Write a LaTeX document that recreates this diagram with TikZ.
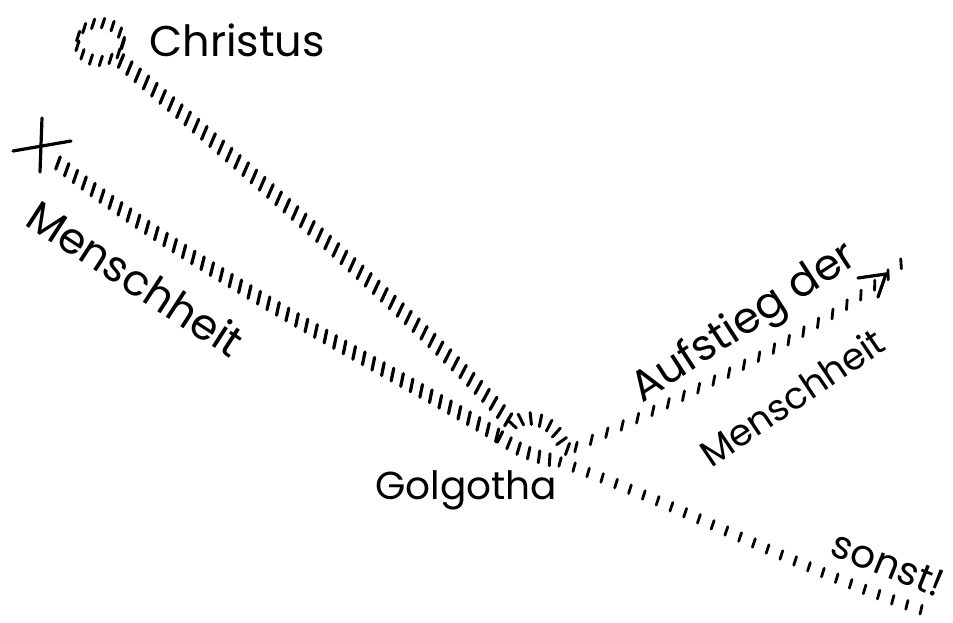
\documentclass[tikz,border=0pt]{standalone}
\usepackage{fontspec}
\setmainfont{Poppins}
\usetikzlibrary{decorations.markings}
\tikzset{
  ink/.style={black, line cap=round},
  hatch/.style n args={4}{decorate, decoration={markings,
     mark=between positions 0 and 1 step #1 with {\draw[ink, line width=#4] (#2+180:#3) -- (#2:#3);}}},
  hatchabs/.style n args={4}{decorate, decoration={markings,
     mark=between positions 0 and 1 step #1 with {\pgftransformresetnontranslations\draw[ink, line width=#4] (#2+180:#3) -- (#2:#3);}}},
  hand/.style={font=\fontsize{43}{43}\selectfont, inner sep=0pt},
  handmid/.style={font=\fontsize{39}{39}\selectfont, inner sep=0pt},
  handsmall/.style={font=\fontsize{37}{37}\selectfont, inner sep=0pt},
}
\begin{document}
\begin{tikzpicture}[x=1pt,y=-1pt]
\fill[white] (0,0) rectangle (953,622);
\useasboundingbox (0,0) rectangle (953,622);
% named points
\coordinate (chc) at (100,42);
\coordinate (c0) at (121,61);
\coordinate (c1) at (512,424);
\coordinate (c2) at (562,442);
\coordinate (a0) at (576,447);
\coordinate (a1) at (903,262);
\coordinate (m0) at (58,163);
\coordinate (m1) at (500,437);
\coordinate (m2) at (560,462);
\coordinate (s1) at (928,612);
\coordinate (crossT) at (42,118);
\coordinate (crossB) at (40,172);
\coordinate (crossL) at (13,151);
\coordinate (crossR) at (71,141);
\coordinate (arrH0) at (858,278);
\coordinate (arrTip) at (886,274);
\coordinate (arrD) at (878,297);
% Christus circle
\path[hatchabs={10pt}{72}{5pt}{3pt}] (chc) ellipse [x radius=23pt, y radius=19pt];
% Christus line
\path[hatch={11pt}{108}{7pt}{3.2pt}] (c0) .. controls (260,180) and (430,330) .. (c1);
% loop at Golgotha
\path[hatch={10pt}{100}{6pt}{3pt}] (c1) .. controls (528,412) and (552,420) .. (c2) .. controls (566,450) and (570,452) .. (a0);
% Aufstieg
\path[hatch={17pt}{52}{5pt}{2.8pt}] (a0) .. controls (700,390) and (840,320) .. (a1);
% Menschheit line
\path[hatch={11pt}{108}{6.5pt}{3.2pt}] (m0) .. controls (200,275) and (400,375) .. (m1);
\path[hatch={11pt}{100}{6pt}{3pt}] (m1) .. controls (520,452) and (540,458) .. (m2);
% sonst
\path[hatch={15pt}{95}{4.5pt}{2.8pt}] (m2) .. controls (680,505) and (800,570) .. (s1);
% cross
\draw[ink, line width=3.2pt] (crossT) -- (crossB);
\draw[ink, line width=3.2pt] (crossL) -- (crossR);
% hand-drawn arrowhead
\draw[ink, line width=3.2pt] (arrH0) -- (arrTip) -- (arrD);
% labels
\node[hand] (christus) at (237,40) {Christus};
\node[hand, rotate=-33] (mensch1) at (136,278) {Menschheit};
\node[handmid] (golgotha) at (466,490) {Golgotha};
\node[hand, rotate=33] (aufstieg) at (745,324) {Aufstieg der};
\node[handsmall, rotate=34] (mensch2) at (792,397) {Menschheit};
\node[handmid, rotate=-22] (sonst) at (888,564) {sonst!};
\end{tikzpicture}
\end{document}
